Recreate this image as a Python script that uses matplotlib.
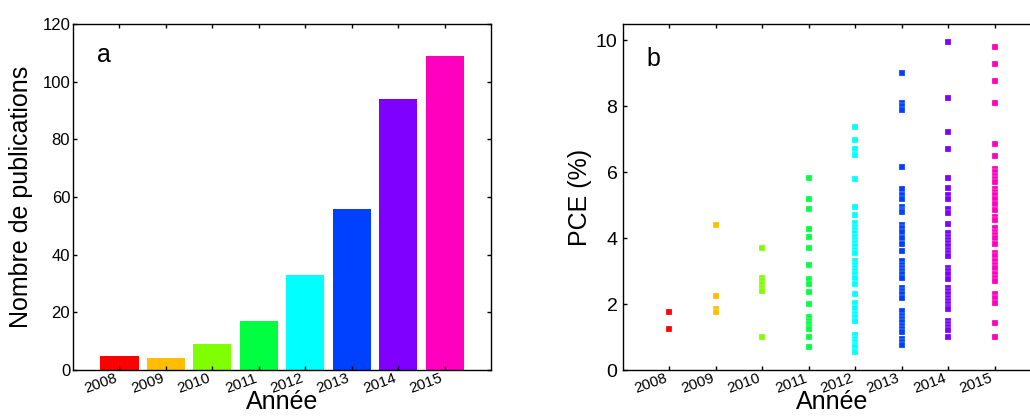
import matplotlib
matplotlib.use("Agg")
import matplotlib.pyplot as plt

plt.rcParams['font.family'] = ['Liberation Sans', 'DejaVu Sans']

years = [2008, 2009, 2010, 2011, 2012, 2013, 2014, 2015]
year_labels = ['2008', '2009', '2010', '2011', '2012', '2013', '2014', '2015']
publications = [5, 4, 9, 17, 33, 56, 94, 109]
colors = ['#ff0000', '#ffbf00', '#80ff00', '#00ff40', '#00ffff', '#0040ff', '#8000ff', '#ff00bf']

pce_2008 = [1.75, 1.25]
pce_2009 = [4.4, 2.25, 1.85, 1.75]
pce_2010 = [3.7, 2.8, 2.7, 2.6, 2.5, 2.4, 1.0]
pce_2011 = [5.84, 5.19, 4.89, 4.29, 4.04, 3.69, 3.2, 2.75, 2.6, 2.37, 1.99,
            1.6, 1.5, 1.4, 1.3, 1.25, 1.0, 0.7]
pce_2012 = [7.37, 6.99, 6.70, 6.51, 5.81, 4.95, 4.70,
            4.45, 4.35, 4.25, 4.15, 4.05, 3.95, 3.85, 3.75, 3.65, 3.55,
            3.3, 3.2, 3.1, 3.0, 2.9, 2.8, 2.6, 2.3, 2.04, 1.87,
            1.7, 1.6, 1.5, 1.05, 0.95, 0.85, 0.75, 0.7, 0.54]
pce_2013 = [9.02, 8.1, 8.0, 7.9, 6.15, 5.49, 5.3, 5.2, 4.95, 4.85, 4.8,
            4.4, 4.3, 4.2, 4.0, 3.81, 3.62, 3.3, 3.2, 3.1, 3.0, 2.9, 2.8,
            2.5, 2.4, 2.3, 2.2, 1.8, 1.65, 1.55, 1.45, 1.35, 1.25, 1.15,
            0.95, 0.85, 0.75]
pce_2014 = [9.95, 8.26, 7.22, 6.70, 5.84, 5.53, 5.3, 5.2, 4.9, 4.75, 4.44,
            4.15, 4.05, 3.95, 3.85, 3.75, 3.65, 3.55, 3.45, 3.1, 3.0, 2.9,
            2.75, 2.5, 2.4, 2.3, 2.2, 2.1, 2.0, 1.9, 1.85, 1.5, 1.4, 1.3,
            1.2, 1.0]
pce_2015 = [9.8, 9.29, 8.78, 8.1, 6.87, 6.48, 6.1, 6.0, 5.9, 5.8, 5.7,
            5.5, 5.4, 5.3, 5.2, 5.05, 4.87, 4.65, 4.55, 4.3, 4.2, 4.1, 4.0,
            3.81, 3.55, 3.45, 3.3, 3.2, 3.1, 2.9, 2.8, 2.7, 2.3, 2.2, 2.04,
            1.44, 0.99]
pce_all = [pce_2008, pce_2009, pce_2010, pce_2011, pce_2012, pce_2013, pce_2014, pce_2015]

fig = plt.figure(figsize=(10.30, 4.17), dpi=100)
axA = fig.add_axes([0.0709, 0.1127, 0.4058, 0.8297])
axB = fig.add_axes([0.6049, 0.1127, 0.4058, 0.8297])

# Panel a
axA.bar(years, publications, width=0.82, color=colors)
axA.set_xlim(2007, 2016)
axA.set_ylim(0, 120)
axA.set_yticks([0, 20, 40, 60, 80, 100, 120])
axA.set_ylabel('Nombre de publications', fontsize=18)
axA.yaxis.set_label_coords(-0.096, 0.5)
axA.tick_params(axis='y', labelsize=12, pad=2)
axA.text(0.057, 0.89, 'a', transform=axA.transAxes, fontsize=18, va='baseline')

# Panel b
for yr, vals, c in zip(years, pce_all, colors):
    axB.scatter([yr] * len(vals), vals, marker='s', s=16, color=c,
                edgecolors=(1, 1, 1, 0.55), linewidths=0.35)
axB.set_xlim(2007, 2016)
axB.set_ylim(0, 10.5)
axB.set_yticks([0, 2, 4, 6, 8, 10])
axB.set_ylabel('PCE (%)', fontsize=18)
axB.yaxis.set_label_coords(-0.074, 0.5)
axB.tick_params(axis='y', labelsize=14, pad=4)
axB.text(0.057, 0.879, 'b', transform=axB.transAxes, fontsize=18, va='baseline')

for ax in (axA, axB):
    ax.set_xticks(years)
    ax.set_xticklabels(year_labels, rotation=20, ha='right', rotation_mode='default')
    ax.tick_params(axis='x', labelsize=11, pad=1)
    ax.tick_params(direction='in', length=3, width=1, top=True, right=True)
    ax.set_xlabel('Année', fontsize=18)
    ax.xaxis.set_label_coords(0.5, -0.058)
    for sp in ax.spines.values():
        sp.set_linewidth(1.0)
        sp.set_color('black')

fig.savefig('out.png', dpi=100)
